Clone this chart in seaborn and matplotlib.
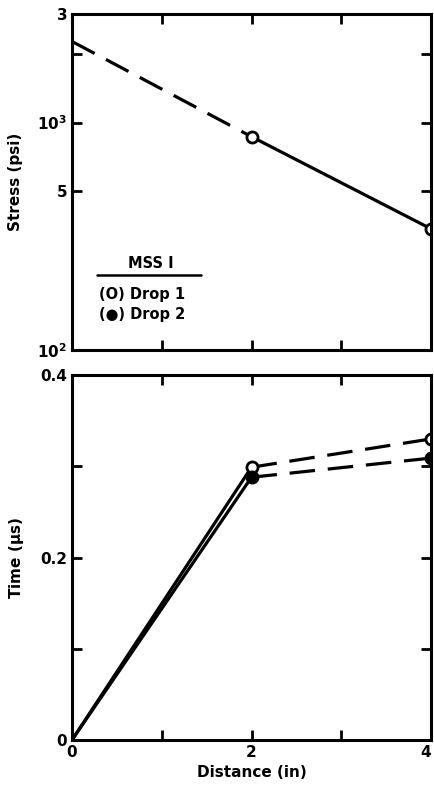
import matplotlib
matplotlib.use("Agg")
import matplotlib.pyplot as plt
import seaborn as sns

# values
distance = [0, 2, 4]
stress = [2275, 867, 341]          # psi, value at 0 is the dashed extrapolation
time_drop1 = [0, 0.299, 0.330]     # microseconds, open circles
time_drop2 = [0, 0.288, 0.309]     # filled circles

sns.set_style("ticks")
plt.rcParams['font.family'] = ['DejaVu Sans']
plt.rcParams['font.weight'] = 'bold'
plt.rcParams['axes.linewidth'] = 2.2
plt.rcParams['axes.edgecolor'] = 'black'
plt.rcParams['text.color'] = 'black'
plt.rcParams['axes.labelcolor'] = 'black'
plt.rcParams['xtick.color'] = 'black'
plt.rcParams['ytick.color'] = 'black'

fig = plt.figure(figsize=(4.34, 7.88), dpi=100)
ax1 = fig.add_axes([0.166, 0.556, 0.827, 0.426])
ax2 = fig.add_axes([0.166, 0.061, 0.827, 0.463])

lw = 2.3
dash = (0, (8, 4))
mk = dict(marker='o', markersize=8, markeredgewidth=2, markeredgecolor='black')

# top panel: stress
sns.lineplot(x=distance[:2], y=stress[:2], ax=ax1, color='black', lw=lw, linestyle=dash)
sns.lineplot(x=distance[1:], y=stress[1:], ax=ax1, color='black', lw=lw)
ax1.plot(distance[1:], stress[1:], linestyle='none', markerfacecolor='white', **mk)
ax1.set_yscale('log')
ax1.set_xlim(0, 4)
ax1.set_ylim(100, 3000)
ax1.set_yticks([100, 500, 1000, 3000])
ax1.set_yticklabels([r'$\mathbf{10^2}$', '5', r'$\mathbf{10^3}$', '3'])
ax1.set_yticks([2000], minor=True)
ax1.set_yticklabels([''], minor=True)
ax1.set_xticks([1, 2, 3])
ax1.set_xticklabels([])
ax1.set_ylabel('Stress (psi)', fontsize=11, fontweight='bold', labelpad=10)

ax1.text(0.22, 0.235, 'MSS I', transform=ax1.transAxes, ha='center', va='bottom',
         fontsize=10.5, fontweight='bold')
ax1.plot([0.07, 0.36], [0.223, 0.223], transform=ax1.transAxes, color='black', lw=1.8)
ax1.text(0.075, 0.164, '(O) Drop 1', transform=ax1.transAxes, ha='left', va='center',
         fontsize=10.5, fontweight='bold')
ax1.text(0.075, 0.104, '(\u25CF) Drop 2', transform=ax1.transAxes, ha='left', va='center',
         fontsize=10.5, fontweight='bold')

# bottom panel: arrival time
for t, fc in [(time_drop1, 'white'), (time_drop2, 'black')]:
    sns.lineplot(x=distance[:2], y=t[:2], ax=ax2, color='black', lw=lw)
    sns.lineplot(x=distance[1:], y=t[1:], ax=ax2, color='black', lw=lw, linestyle=dash)
    ax2.plot(distance[1:], t[1:], linestyle='none', markerfacecolor=fc, **mk)
ax2.set_xlim(0, 4)
ax2.set_ylim(0, 0.4)
ax2.set_xticks([0, 1, 2, 3, 4])
ax2.set_xticklabels(['0', '', '2', '', '4'])
ax2.set_yticks([0, 0.1, 0.2, 0.3, 0.4])
ax2.set_yticklabels(['0', '', '0.2', '', '0.4'])
ax2.set_ylabel('Time ($\\mathbf{\\mu}$s)', fontsize=11, fontweight='bold', labelpad=10)
ax2.set_xlabel('Distance (in)', fontsize=11, fontweight='bold')

for ax in (ax1, ax2):
    ax.tick_params(which='both', direction='in', top=True, right=True,
                   length=7, width=2, labelsize=11)
    for lab in ax.get_xticklabels() + ax.get_yticklabels():
        lab.set_fontweight('bold')
# keep the last x label inside the canvas
ax2.get_xticklabels()[-1].set_horizontalalignment('right')

fig.savefig('out.png', dpi=100)
